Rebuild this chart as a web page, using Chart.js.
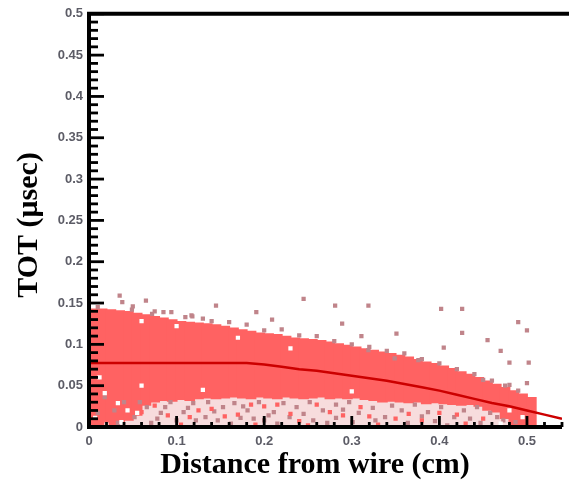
<!DOCTYPE html>
<html>
<head>
<meta charset="utf-8">
<title>TOT vs distance</title>
<script src="https://cdn.jsdelivr.net/npm/chart.js@4/dist/chart.umd.min.js"></script>
<style>
  html, body { margin: 0; padding: 0; background: #fff; }
  canvas { display: block; }
</style>
</head>
<body>
<canvas id="tot" width="569" height="481"></canvas>
<script>
// histogram columns (bin centres, 0.01 cm wide) and the filled TOT range of each column
const binX = [0.005, 0.015, 0.025, 0.035, 0.045, 0.055, 0.065, 0.075, 0.085, 0.095,
  0.105, 0.115, 0.125, 0.135, 0.145, 0.155, 0.165, 0.175, 0.185, 0.195,
  0.205, 0.215, 0.225, 0.235, 0.245, 0.255, 0.265, 0.275, 0.285, 0.295,
  0.305, 0.315, 0.325, 0.335, 0.345, 0.355, 0.365, 0.375, 0.385, 0.395,
  0.405, 0.415, 0.425, 0.435, 0.445, 0.455, 0.465, 0.475, 0.485, 0.495, 0.505];
const bandTop = [0.143, 0.143, 0.142, 0.141, 0.140, 0.138, 0.136, 0.134, 0.132, 0.130,
  0.128, 0.127, 0.126, 0.125, 0.124, 0.122, 0.120, 0.118, 0.116, 0.114,
  0.113, 0.112, 0.110, 0.108, 0.107, 0.106, 0.105, 0.103, 0.101, 0.099,
  0.097, 0.095, 0.093, 0.091, 0.089, 0.087, 0.085, 0.082, 0.079, 0.077,
  0.074, 0.071, 0.067, 0.064, 0.060, 0.056, 0.052, 0.048, 0.044, 0.040, 0.036];
const bandBottom = [0, 0, 0, 0.004, 0.008, 0.014, 0.026, 0.030, 0.032, 0.031,
  0.033, 0.032, 0.034, 0.035, 0.034, 0.035, 0.036, 0.035, 0.034, 0.036,
  0.035, 0.034, 0.036, 0.035, 0.034, 0.035, 0.036, 0.034, 0.035, 0.034,
  0.035, 0.033, 0.032, 0.030, 0.031, 0.030, 0.029, 0.030, 0.028, 0.029,
  0.028, 0.027, 0.026, 0.027, 0.025, 0.020, 0.018, 0.010, 0, 0, 0];

// mean TOT profile
const profileX = [0, 0.02, 0.04, 0.06, 0.08, 0.10, 0.12, 0.14, 0.16, 0.18, 0.20, 0.22, 0.24, 0.26,
  0.28, 0.30, 0.32, 0.34, 0.36, 0.38, 0.40, 0.42, 0.44, 0.46, 0.48, 0.50, 0.52, 0.54];
const profileY = [0.0775, 0.0775, 0.0775, 0.0775, 0.0775, 0.0775, 0.0775, 0.0775, 0.0775, 0.0775,
  0.0755, 0.073, 0.070, 0.068, 0.065, 0.062, 0.059, 0.056, 0.052, 0.048,
  0.044, 0.039, 0.034, 0.029, 0.025, 0.020, 0.015, 0.010];

// sparse low-count cells [x, y]
const strayCells = [
  [0.035, 0.159], [0.038, 0.151], [0.049, 0.142], [0.065, 0.153], [0.072, 0.137], [0.085, 0.139],
  [0.094, 0.139], [0.117, 0.135], [0.118, 0.134], [0.145, 0.147], [0.191, 0.139], [0.209, 0.130],
  [0.245, 0.155], [0.281, 0.147], [0.289, 0.125], [0.319, 0.147], [0.311, 0.110], [0.319, 0.093],
  [0.351, 0.113], [0.349, 0.083], [0.376, 0.081], [0.402, 0.143], [0.426, 0.143], [0.426, 0.114],
  [0.405, 0.096], [0.455, 0.105], [0.470, 0.092], [0.490, 0.127], [0.500, 0.117], [0.480, 0.078],
  [0.502, 0.078], [0.450, 0.057], [0.480, 0.051], [0.500, 0.053],
  [0.010, 0.145], [0.050, 0.146], [0.110, 0.133], [0.130, 0.131], [0.160, 0.127], [0.180, 0.124],
  [0.220, 0.118], [0.260, 0.110], [0.300, 0.100], [0.340, 0.092], [0.380, 0.082], [0.420, 0.070],
  [0.460, 0.056], [0.490, 0.044], [0.075, 0.140], [0.140, 0.128], [0.200, 0.117], [0.240, 0.111],
  [0.280, 0.104], [0.320, 0.097], [0.360, 0.089], [0.400, 0.077], [0.440, 0.064], [0.475, 0.050],
  [0.018, 0.036], [0.029, 0.020], [0.040, 0.030], [0.052, 0.012], [0.066, 0.024], [0.082, 0.017],
  [0.093, 0.030], [0.108, 0.018], [0.119, 0.029], [0.010, 0.017], [0.033, 0.005], [0.071, 0.005],
  [0.100, 0.008], [0.122, 0.008], [0.058, 0.030], [0.087, 0.024], [0.113, 0.023], [0.078, 0.010],
  [0.136, 0.030], [0.153, 0.024], [0.166, 0.029], [0.181, 0.020], [0.194, 0.030], [0.211, 0.018],
  [0.222, 0.029], [0.237, 0.024], [0.252, 0.030], [0.267, 0.020], [0.282, 0.027], [0.297, 0.030],
  [0.308, 0.017], [0.133, 0.012], [0.147, 0.008], [0.173, 0.011], [0.200, 0.008], [0.229, 0.012],
  [0.256, 0.008], [0.282, 0.011], [0.301, 0.006], [0.162, 0.004], [0.215, 0.004], [0.143, 0.019],
  [0.176, 0.025], [0.205, 0.014], [0.245, 0.016], [0.272, 0.005], [0.290, 0.021], [0.188, 0.010],
  [0.324, 0.023], [0.338, 0.012], [0.357, 0.020], [0.372, 0.027], [0.387, 0.018], [0.402, 0.024],
  [0.417, 0.012], [0.428, 0.020], [0.443, 0.024], [0.458, 0.017], [0.473, 0.008], [0.364, 0.005],
  [0.409, 0.002], [0.447, 0.005], [0.327, 0.008], [0.346, 0.026], [0.380, 0.013], [0.395, 0.007],
  [0.435, 0.010], [0.466, 0.012], [0.487, 0.006]
];
// isolated full-colour cells under the band
const lowCells = [
  [0.06, 0.018], [0.09, 0.014], [0.115, 0.012], [0.14, 0.022], [0.17, 0.015], [0.19, 0.003],
  [0.20, 0.025], [0.23, 0.016], [0.25, 0.002], [0.26, 0.027], [0.29, 0.014], [0.31, 0.024],
  [0.33, 0.003], [0.35, 0.010], [0.38, 0.008], [0.42, 0.015], [0.45, 0.010], [0.125, 0.020],
  [0.155, 0.013], [0.185, 0.027], [0.215, 0.027], [0.24, 0.007], [0.275, 0.018], [0.32, 0.013],
  [0.365, 0.016], [0.40, 0.017], [0.43, 0.004], [0.455, 0.023], [0.075, 0.026], [0.105, 0.003]
];
// empty cells inside the filled region
const emptyCells = [
  [0.007, 0.011], [0.018, 0.041], [0.033, 0.029], [0.044, 0.020], [0.055, 0.017], [0.037, 0.006],
  [0.020, 0.003], [0.060, 0.050], [0.130, 0.045], [0.100, 0.122], [0.060, 0.128], [0.170, 0.108],
  [0.230, 0.095], [0.300, 0.043], [0.470, 0.004], [0.495, 0.012], [0.480, 0.020], [0.012, 0.060]
];

const xTickLabels = ["0", "0.1", "0.2", "0.3", "0.4", "0.5"];
const yTickLabels = ["0", "0.05", "0.1", "0.15", "0.2", "0.25", "0.3", "0.35", "0.4", "0.45", "0.5"];

const BAND = "#ff6262";
const STRAY = "#c0848a";
const FLOOR = "#f7dcdd";

function isMultiple(v, step) {
  const q = v / step;
  return Math.abs(q - Math.round(q)) < 1e-6;
}

function stepTicks(max, step) {
  const out = [];
  for (let i = 0; i * step <= max + 1e-9; i++) out.push({ value: +(i * step).toFixed(4) });
  return out;
}

const cells = (list, color, order) => ({
  type: "scatter",
  order,
  data: list.map(([x, y]) => ({ x, y })),
  pointStyle: "rect",
  pointRadius: 3,
  borderWidth: 0,
  backgroundColor: color
});

// ROOT-style frame: thick axes with ticks pointing into the plot, plus titles
const framePlugin = {
  id: "frame",
  afterDraw(chart) {
    const { ctx, chartArea: ca, scales } = chart;
    ctx.save();
    ctx.strokeStyle = "#000";
    ctx.lineCap = "butt";

    ctx.lineWidth = 2.8;
    scales.y.ticks.forEach(t => {
      const py = scales.y.getPixelForValue(t.value);
      const len = isMultiple(t.value, 0.05) ? 15 : 9;
      ctx.beginPath();
      ctx.moveTo(ca.left, py);
      ctx.lineTo(ca.left + len, py);
      ctx.stroke();
    });
    scales.x.ticks.forEach(t => {
      const px = scales.x.getPixelForValue(t.value);
      const len = isMultiple(t.value, 0.1) ? 11 : 5;
      ctx.beginPath();
      ctx.moveTo(px, ca.bottom);
      ctx.lineTo(px, ca.bottom - len);
      ctx.stroke();
    });

    ctx.lineWidth = 4;
    ctx.beginPath();
    ctx.moveTo(ca.left, ca.top);
    ctx.lineTo(chart.width, ca.top);
    ctx.moveTo(ca.left, ca.top - 2);
    ctx.lineTo(ca.left, ca.bottom + 2);
    ctx.moveTo(ca.left - 2, ca.bottom);
    ctx.lineTo(ca.right, ca.bottom);
    ctx.stroke();

    ctx.fillStyle = "#000";
    ctx.font = 'bold 30px "Liberation Serif", "Times New Roman", serif';
    ctx.textAlign = "center";
    ctx.textBaseline = "alphabetic";
    ctx.fillText("Distance from wire (cm)", 315, 473);
    ctx.translate(37, 225);
    ctx.rotate(-Math.PI / 2);
    ctx.fillText("TOT (\u03bcsec)", 0, 0);
    ctx.restore();
  }
};

const tickFont = { family: '"Liberation Sans", Arial, sans-serif', size: 13, weight: "bold" };

new Chart(document.getElementById("tot"), {
  type: "bar",
  data: {
    datasets: [
      {
        type: "line",
        order: 0,
        data: profileX.map((x, i) => ({ x, y: profileY[i] })),
        borderColor: "#cc0000",
        borderWidth: 2.5,
        pointRadius: 0,
        fill: false,
        tension: 0
      },
      cells(emptyCells, "#ffffff", 1),
      cells(lowCells, BAND, 2),
      cells(strayCells, STRAY, 3),
      {
        type: "bar",
        order: 4,
        data: binX.map((x, i) => ({ x, y: [bandBottom[i], bandTop[i]] })),
        backgroundColor: BAND,
        borderWidth: 0,
        barThickness: 10,
        grouped: false
      },
      {
        // sparse floor under the dense band
        type: "bar",
        order: 5,
        data: binX.map((x, i) => ({ x, y: [0, bandBottom[i]] })),
        backgroundColor: FLOOR,
        borderWidth: 0,
        barThickness: 10,
        grouped: false
      }
    ]
  },
  options: {
    responsive: false,
    animation: false,
    layout: { padding: { top: 12, right: 0, left: 0, bottom: 0 } },
    plugins: { legend: { display: false }, tooltip: { enabled: false } },
    scales: {
      x: {
        type: "linear",
        min: 0,
        max: 0.54,
        offset: false,
        grid: { display: false, drawTicks: false },
        border: { display: false },
        afterBuildTicks: s => { s.ticks = stepTicks(0.54, 0.02); },
        afterFit: s => { s.height = 54; },
        ticks: {
          autoSkip: false,
          maxRotation: 0,
          padding: 7,
          color: "#5c5c66",
          font: tickFont,
          callback: v => isMultiple(v, 0.1) ? (xTickLabels[Math.round(v * 10)] || "") : ""
        }
      },
      y: {
        type: "linear",
        min: 0,
        max: 0.5,
        grid: { display: false, drawTicks: false },
        border: { display: false },
        afterBuildTicks: s => { s.ticks = stepTicks(0.5, 0.01); },
        afterFit: s => { s.width = 89; },
        ticks: {
          autoSkip: false,
          padding: 6,
          color: "#5c5c66",
          font: tickFont,
          callback: v => isMultiple(v, 0.05) ? (yTickLabels[Math.round(v * 20)] || "") : ""
        }
      }
    }
  },
  plugins: [framePlugin]
});
</script>
</body>
</html>
